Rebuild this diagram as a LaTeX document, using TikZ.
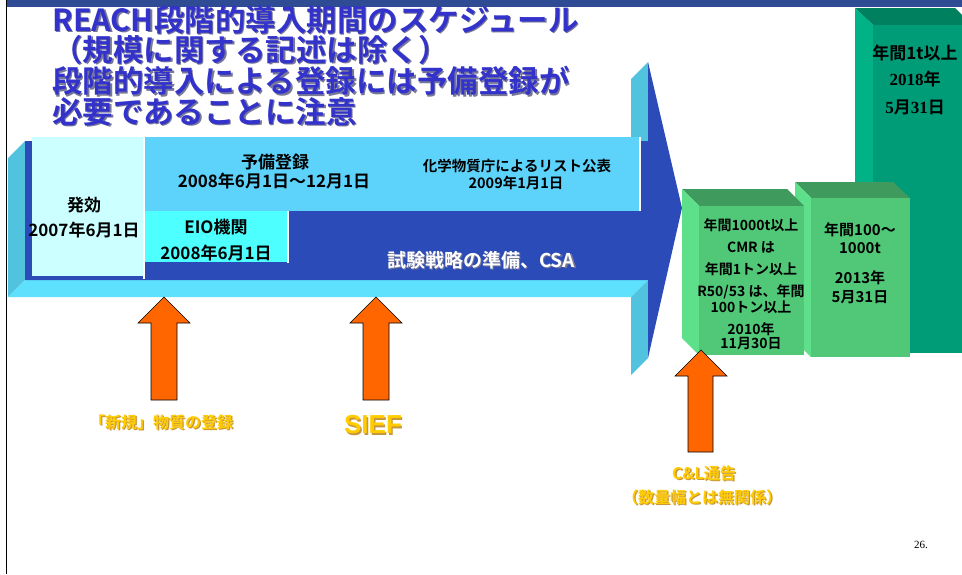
\documentclass[tikz,border=0pt]{standalone}
\usepackage{fontspec}
\setmainfont{Noto Sans CJK JP}[BoldFont={Noto Sans CJK JP Bold}]
\newfontfamily\serifb{Liberation Serif}
\newfontfamily\latinb{Liberation Sans}
\definecolor{arrowblue}{RGB}{43,76,184}
\definecolor{sideface}{RGB}{82,195,223}
\definecolor{bottomface}{RGB}{94,225,252}
\definecolor{lightbox}{RGB}{204,255,255}
\definecolor{prebox}{RGB}{93,211,252}
\definecolor{eiobox}{RGB}{77,255,255}
\definecolor{titleblue}{RGB}{51,51,204}
\definecolor{shadowgray}{RGB}{120,120,150}
\definecolor{gfront}{RGB}{80,200,120}
\definecolor{gside}{RGB}{94,224,138}
\definecolor{gtop}{RGB}{63,154,94}
\definecolor{tfront}{RGB}{0,155,119}
\definecolor{tside}{RGB}{0,178,134}
\definecolor{ttop}{RGB}{0,128,95}
\definecolor{orangearrow}{RGB}{255,102,0}
\definecolor{labelyellow}{RGB}{255,204,0}
\definecolor{labelshadow}{RGB}{200,150,60}
\definecolor{topband}{RGB}{46,75,147}
\newcommand\shtext[6]{% name, x, y, style, shadow colour, text
  \node[#4, text=#5, xshift=1.4pt, yshift=-1.4pt] (#1s) at (#2,#3) {#6};
  \node[#4] (#1) at (#2,#3) {#6};}
\begin{document}
\begin{tikzpicture}[x=1pt,y=-1pt,
  titletxt/.style={font=\fontsize{30.5}{30.5}\selectfont\bfseries, text=titleblue, inner sep=0, anchor=west},
  boxtxt/.style={font=\fontsize{17}{19}\selectfont\bfseries, text=black, inner sep=0, align=center},
  smalltxt/.style={font=\fontsize{14}{15}\selectfont\bfseries, text=black, inner sep=0, align=center},
  midtxt/.style={font=\fontsize{15}{17}\selectfont\bfseries, text=black, inner sep=0, align=center},
  ctxt/.style={font=\fontsize{17}{19}\selectfont\bfseries, text=black, inner sep=0, align=center},
  labeltxt/.style={font=\fontsize{16}{18}\selectfont\bfseries, text=labelyellow, inner sep=0, align=center},
  uparrow/.style={fill=orangearrow, draw=black, line width=0.6pt, line join=miter}
]
\useasboundingbox (0,0) rectangle (962,574);
\fill[white] (0,0) rectangle (962,574);
% top band and left rule
\fill[topband] (7,0) rectangle (962,7);
\draw[black, line width=1.6pt] (6.5,0) -- (6.5,574);

% ---- title ----
\shtext{t1}{52}{20}{titletxt}{shadowgray}{REACH段階的導入期間のスケジュール}
\shtext{t2}{52}{50}{titletxt}{shadowgray}{（規模に関する記述は除く）}
\shtext{t3}{52}{81}{titletxt}{shadowgray}{段階的導入による登録には予備登録が}
\shtext{t4}{52}{112}{titletxt}{shadowgray}{必要であることに注意}

% ---- 3D timeline arrow ----
\fill[sideface] (8,158) -- (25,141) -- (25,280) -- (8,297) -- cycle;
\fill[bottomface] (8,297) -- (25,280) -- (648,280) -- (631,297) -- cycle;
\fill[sideface] (631,79) -- (648,62) -- (648,150) -- (631,150) -- cycle;
\fill[sideface] (631,297) -- (648,280) -- (648,358) -- (631,375) -- cycle;
\fill[arrowblue] (25,141) -- (648,141) -- (648,62) -- (682,208) -- (648,358) -- (648,280) -- (25,280) -- cycle;

% inner boxes
\fill[lightbox] (32,137) rectangle (143,276);
\fill[white] (143,137) rectangle (145,279);
\fill[prebox] (145,137) rectangle (639,211);
\fill[white] (639,137) rectangle (640.5,211);
\fill[eiobox] (145,211) rectangle (287,262);
\fill[white] (287,211) rectangle (289,263);

\node[boxtxt] (hk1) at (84,205) {発効};
\node[boxtxt] (hk2) at (84,230) {2007年6月1日};
\node[boxtxt] (yb1) at (275,162) {予備登録};
\node[boxtxt] (yb2) at (274,181) {2008年6月1日～12月1日};
\node[smalltxt, font=\fontsize{14.5}{16}\selectfont\bfseries] (ka1) at (517,166) {化学物質庁によるリスト公表};
\node[smalltxt, font=\fontsize{14.5}{16}\selectfont\bfseries] (ka2) at (516,183) {2009年1月1日};
\node[boxtxt] (eio1) at (216,227) {EIO機関};
\node[boxtxt] (eio2) at (216,253) {2008年6月1日};
\shtext{csa}{481}{260}{boxtxt, font=\fontsize{19}{21}\selectfont\bfseries, text=white}{shadowgray}{試験戦略の準備、CSA}

% ---- 3D deadline blocks ----
% C (tall)
\fill[ttop] (855,8) -- (955,8) -- (972,25) -- (873,25) -- cycle;
\fill[tside] (855,8) -- (873,25) -- (873,353) -- (855,336) -- cycle;
\fill[tfront] (873,25) rectangle (972,353);
% B
\fill[gtop] (795,182) -- (893,182) -- (910,198) -- (811,198) -- cycle;
\fill[gside] (795,182) -- (811,198) -- (811,357) -- (795,341) -- cycle;
\fill[gfront] (811,198) rectangle (910,357);
% A
\fill[gtop] (682,189) -- (787,189) -- (804,206) -- (699,206) -- cycle;
\fill[gside] (682,189) -- (699,206) -- (699,355) -- (682,338) -- cycle;
\fill[gfront] (699,206) rectangle (804,355);

\node[smalltxt] (a1) at (751,225) {年間1000t以上};
\node[smalltxt] (a2) at (751,247) {CMR は};
\node[smalltxt] (a3) at (751,269) {年間1トン以上};
\node[smalltxt] (a4) at (751,292) {R50/53 は、年間};
\node[smalltxt] (a5) at (751,307) {100トン以上};
\node[smalltxt] (a6) at (751,329) {2010年};
\node[smalltxt] (a7) at (751,344) {11月30日};

\node[midtxt] (b1) at (860,230) {年間100～};
\node[midtxt] (b2) at (860,248) {1000t};
\node[midtxt] (b3) at (860,278) {2013年};
\node[midtxt] (b4) at (860,297) {5月31日};

\node[ctxt] (c1) at (915,53) {年間1t以上};
\node[ctxt] (c2) at (915,79) {{\serifb\bfseries 2018}年};
\node[ctxt] (c3) at (915,107) {{\serifb\bfseries 5}月{\serifb\bfseries 31}日};

% ---- orange arrows ----
\draw[uparrow] (164,297) -- (190,323) -- (177,323) -- (177,400) -- (151,400) -- (151,323) -- (138,323) -- cycle;
\draw[uparrow] (376,297) -- (402,323) -- (389,323) -- (389,400) -- (363,400) -- (363,323) -- (350,323) -- cycle;
\draw[uparrow] (701,350) -- (727,376) -- (713,376) -- (713,452) -- (688,452) -- (688,376) -- (675,376) -- cycle;

% ---- labels ----
\shtext{l1}{161}{422}{labeltxt}{labelshadow}{「新規」物質の登録}
\shtext{l2}{373}{425}{labeltxt, font=\latinb\fontsize{26}{28}\selectfont\bfseries}{labelshadow}{SIEF}
\shtext{l3}{704}{473}{labeltxt}{labelshadow}{C\&L通告}
\shtext{l4}{702}{497}{labeltxt}{labelshadow}{（数量幅とは無関係）}

\node[font=\serifb\fontsize{11}{12}\selectfont, inner sep=0] (pg) at (921,545) {26.};
\end{tikzpicture}
\end{document}
